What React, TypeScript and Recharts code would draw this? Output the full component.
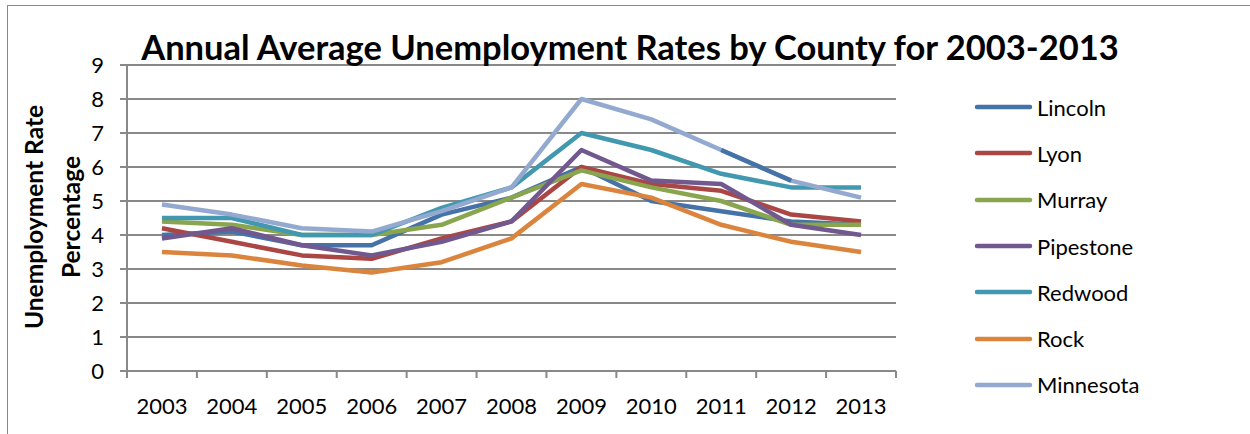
import { LineChart, Line, XAxis, YAxis, CartesianGrid, Legend } from 'recharts';

// 年份与各县失业率
const years = ['2003', '2004', '2005', '2006', '2007', '2008', '2009', '2010', '2011', '2012', '2013'];
const lincoln = [4.0, 4.1, 3.7, 3.7, 4.6, 5.1, 6.0, 5.0, 4.7, 4.4, 4.3];
const lyon = [4.2, 3.8, 3.4, 3.3, 3.9, 4.4, 6.0, 5.5, 5.3, 4.6, 4.4];
const murray = [4.4, 4.3, 4.0, 4.0, 4.3, 5.1, 5.9, 5.4, 5.0, 4.3, 4.3];
const pipestone = [3.9, 4.2, 3.7, 3.4, 3.8, 4.4, 6.5, 5.6, 5.5, 4.3, 4.0];
const redwood = [4.5, 4.5, 4.0, 4.0, 4.8, 5.4, 7.0, 6.5, 5.8, 5.4, 5.4];
const rock = [3.5, 3.4, 3.1, 2.9, 3.2, 3.9, 5.5, 5.1, 4.3, 3.8, 3.5];
const minnesota = [4.9, 4.6, 4.2, 4.1, 4.7, 5.4, 8.0, 7.4, 6.5, 5.6, 5.1];
// Minnesota 2011-2012 段在原图中是深蓝色
const minnesotaAccent = [null, null, null, null, null, null, null, null, 6.5, 5.6, null];
const yTicks = [0, 1, 2, 3, 4, 5, 6, 7, 8, 9];

const series = [
  { name: 'Lincoln', values: lincoln, color: '#4572A7' },
  { name: 'Lyon', values: lyon, color: '#AA4643' },
  { name: 'Murray', values: murray, color: '#89A54E' },
  { name: 'Pipestone', values: pipestone, color: '#71588F' },
  { name: 'Redwood', values: redwood, color: '#4198AF' },
  { name: 'Rock', values: rock, color: '#DB843D' },
  { name: 'Minnesota', values: minnesota, color: '#93A9CF' },
];

const data = years.map((year, i) => {
  const row: any = { i, year, accent: minnesotaAccent[i] };
  series.forEach((s) => { row[s.name] = s.values[i]; });
  return row;
});

const FONT = 'Lato, "Open Sans", sans-serif';
const GRID = '#898989';
const boundaryTicks = years.map((_, i) => i - 0.5).concat([years.length - 0.5]);
const centerTicks = years.map((_, i) => i);

function LegendBox() {
  return (
    <div style={{ fontFamily: FONT, fontSize: 22, color: '#000' }}>
      {series.map((s) => (
        <div key={s.name} style={{ height: 46.3, display: 'flex', alignItems: 'center' }}>
          <svg width={63} height={10}>
            <line x1={3} y1={5} x2={56} y2={5} stroke={s.color} strokeWidth={4.5} strokeLinecap="round" />
          </svg>
          <span>{s.name}</span>
        </div>
      ))}
    </div>
  );
}

export default function App() {
  return (
    <div style={{ position: 'absolute', left: 0, top: 0, width: 1250, height: 434, overflow: 'hidden', background: '#fff' }}>
      <div style={{ position: 'absolute', left: 7, top: 5, width: 1300, height: 500, border: `1.5px solid ${GRID}` }} />
      <LineChart
        width={1250}
        height={434}
        data={data}
        margin={{ top: 65, right: 354, bottom: 0, left: 67 }}
        style={{ position: 'absolute', left: 0, top: 0 }}
      >
        <CartesianGrid vertical={false} stroke={GRID} strokeWidth={2} />
        <XAxis
          dataKey="i"
          type="number"
          domain={[-0.5, years.length - 0.5]}
          ticks={boundaryTicks}
          tickFormatter={() => ''}
          height={20}
          tickSize={7}
          stroke={GRID}
          strokeWidth={2}
          interval={0}
        />
        <XAxis
          xAxisId="labels"
          dataKey="i"
          type="number"
          domain={[-0.5, years.length - 0.5]}
          ticks={centerTicks}
          tickFormatter={(v: number) => years[v] ?? ''}
          height={43}
          tickLine={false}
          axisLine={false}
          tickSize={0}
          tickMargin={7}
          interval={0}
          tick={{ fill: '#000', fontSize: 22, fontFamily: FONT }}
        />
        <YAxis
          domain={[0, 9]}
          ticks={yTicks}
          width={60}
          tickSize={7}
          tickMargin={16}
          stroke={GRID}
          strokeWidth={2}
          interval={0}
          tick={{ fill: '#000', fontSize: 22, fontFamily: FONT }}
        />
        <Legend
          layout="vertical"
          align="center"
          verticalAlign="middle"
          wrapperStyle={{ left: 974, top: 84, width: 260 }}
          content={() => <LegendBox />}
        />
        {series.map((s) => (
          <Line
            key={s.name}
            dataKey={s.name}
            stroke={s.color}
            strokeWidth={4.5}
            strokeLinejoin="round"
            dot={false}
            activeDot={false}
            isAnimationActive={false}
          />
        ))}
        <Line
          dataKey="accent"
          stroke="#4572A7"
          strokeWidth={4.5}
          dot={false}
          activeDot={false}
          legendType="none"
          isAnimationActive={false}
        />
      </LineChart>
      <div
        style={{
          position: 'absolute', left: 0, top: 27, width: 1260, textAlign: 'center',
          fontFamily: FONT, fontWeight: 700, fontSize: 34.5, color: '#000', lineHeight: '40px',
        }}
      >
        Annual Average Unemployment Rates by County for 2003-2013
      </div>
      <div
        style={{
          position: 'absolute', left: 52, top: 217, width: 320, transform: 'translate(-50%, -50%) rotate(-90deg)',
          textAlign: 'center', fontFamily: FONT, fontWeight: 700, fontSize: 24.5, lineHeight: '37px', color: '#000',
        }}
      >
        Unemployment Rate<br />Percentage
      </div>
    </div>
  );
}
